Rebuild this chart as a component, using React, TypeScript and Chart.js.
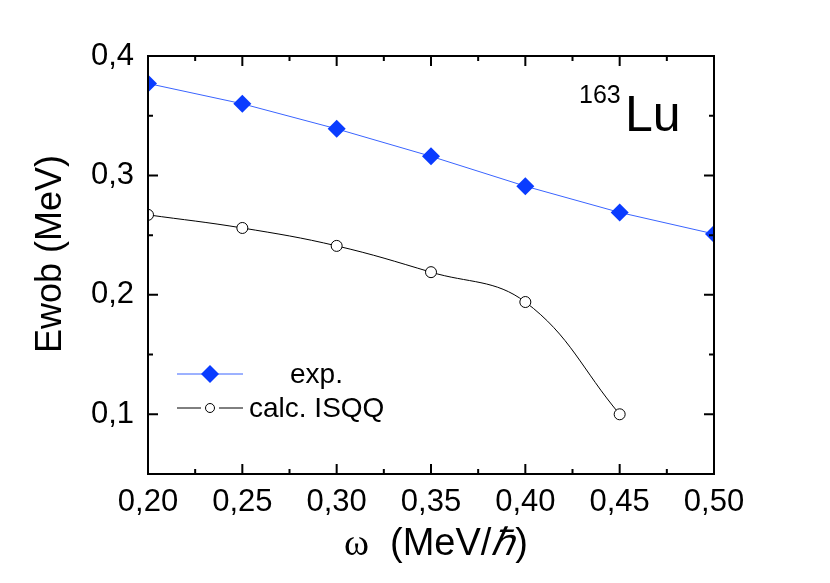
import React, { useEffect, useRef } from 'react';
import { Chart, registerables } from 'chart.js';
Chart.register(...registerables);

const OMEGA_EXP = [0.2, 0.25, 0.3, 0.35, 0.4, 0.45, 0.5];
const E_EXP = [0.377, 0.36, 0.339, 0.316, 0.291, 0.269, 0.251];
const OMEGA_CALC = [0.2, 0.25, 0.3, 0.35, 0.4, 0.45];
const E_CALC = [0.267, 0.256, 0.241, 0.219, 0.194, 0.1];
const X_TICKS = [0.2, 0.25, 0.3, 0.35, 0.4, 0.45, 0.5];
const X_MINOR = [0.225, 0.275, 0.325, 0.375, 0.425, 0.475];
const Y_TICKS = [0.1, 0.2, 0.3, 0.4];
const Y_MINOR = [0.15, 0.25, 0.35];
const SERIES_LABELS = ['exp.', 'calc. ISQQ'];
const X_TITLE_PARTS = ['\u03c9', '(MeV/', '\u210f', ')'];
const Y_TITLE = 'Ewob (MeV)';
const NUCLEUS_MASS = '163';
const NUCLEUS_SYMBOL = 'Lu';

const SANS = '"Liberation Sans", Arial, sans-serif';
const SERIF = '"Liberation Serif", "Times New Roman", serif';
const BLUE = '#0a3cff';
const BLUE_LINE = '#3a64ff';

const fmt = (v: number, d: number) => v.toFixed(d).replace('.', ',');

const framePlugin = {
  id: 'frame',
  afterDatasetsDraw(chart: any) {
    const { ctx, chartArea: a, scales } = chart;
    const xs = scales.x;
    const ys = scales.y;
    ctx.save();
    ctx.strokeStyle = '#000';
    ctx.lineWidth = 2;
    ctx.strokeRect(a.left, a.top, a.right - a.left, a.bottom - a.top);
    const tick = (vals: number[], len: number) => {
      vals.forEach((v) => {
        const px = xs.getPixelForValue(v);
        ctx.beginPath();
        ctx.moveTo(px, a.bottom);
        ctx.lineTo(px, a.bottom - len);
        ctx.moveTo(px, a.top);
        ctx.lineTo(px, a.top + len);
        ctx.stroke();
      });
    };
    const ytick = (vals: number[], len: number) => {
      vals.forEach((v) => {
        const py = ys.getPixelForValue(v);
        ctx.beginPath();
        ctx.moveTo(a.left, py);
        ctx.lineTo(a.left + len, py);
        ctx.moveTo(a.right, py);
        ctx.lineTo(a.right - len, py);
        ctx.stroke();
      });
    };
    tick(X_TICKS, 10);
    tick(X_MINOR, 5);
    ytick(Y_TICKS, 10);
    ytick(Y_MINOR, 5);
    ctx.restore();
  },
  afterDraw(chart: any) {
    const { ctx } = chart;
    ctx.save();
    ctx.fillStyle = '#000';
    // legend
    ctx.lineWidth = 1;
    ctx.strokeStyle = BLUE_LINE;
    ctx.beginPath();
    ctx.moveTo(177, 374);
    ctx.lineTo(243, 374);
    ctx.stroke();
    ctx.fillStyle = BLUE;
    ctx.beginPath();
    ctx.moveTo(210 - 9, 374);
    ctx.lineTo(210, 374 - 9);
    ctx.lineTo(210 + 9, 374);
    ctx.lineTo(210, 374 + 9);
    ctx.closePath();
    ctx.fill();
    ctx.strokeStyle = '#000';
    ctx.beginPath();
    ctx.moveTo(177, 408);
    ctx.lineTo(201, 408);
    ctx.moveTo(219, 408);
    ctx.lineTo(243, 408);
    ctx.stroke();
    ctx.beginPath();
    ctx.arc(210, 408, 4.5, 0, Math.PI * 2);
    ctx.fillStyle = '#fff';
    ctx.fill();
    ctx.stroke();
    ctx.fillStyle = '#000';
    ctx.font = `28px ${SANS}`;
    ctx.textBaseline = 'middle';
    ctx.textAlign = 'left';
    ctx.fillText(SERIES_LABELS[0], 290, 375);
    ctx.fillText(SERIES_LABELS[1], 249, 409);
    // nucleus label
    ctx.textBaseline = 'alphabetic';
    ctx.font = `25px ${SANS}`;
    ctx.fillText(NUCLEUS_MASS, 579, 103);
    ctx.font = `50px ${SANS}`;
    ctx.fillText(NUCLEUS_SYMBOL, 625, 131);
    // y title
    ctx.save();
    ctx.translate(51, 254);
    ctx.rotate(-Math.PI / 2);
    ctx.textAlign = 'center';
    ctx.textBaseline = 'middle';
    ctx.font = `36px ${SANS}`;
    ctx.fillText(Y_TITLE, 0, 0);
    ctx.restore();
    // x title
    let x = 344;
    const base = 555;
    ctx.textAlign = 'left';
    ctx.textBaseline = 'alphabetic';
    ctx.font = `38px ${SERIF}`;
    ctx.fillText(X_TITLE_PARTS[0], x, base);
    x = 390;
    ctx.font = `38px ${SANS}`;
    ctx.fillText(X_TITLE_PARTS[1], x, base);
    x += ctx.measureText(X_TITLE_PARTS[1]).width;
    ctx.font = `italic 38px ${SERIF}`;
    ctx.fillText(X_TITLE_PARTS[2], x, base);
    x += ctx.measureText(X_TITLE_PARTS[2]).width + 1;
    ctx.font = `38px ${SANS}`;
    ctx.fillText(X_TITLE_PARTS[3], x, base);
    ctx.restore();
  },
};

export default function App() {
  const ref = useRef<HTMLCanvasElement>(null);
  useEffect(() => {
    document.body.style.margin = '0';
    const chart = new Chart(ref.current as HTMLCanvasElement, {
      type: 'line',
      data: {
        datasets: [
          {
            label: SERIES_LABELS[0],
            data: OMEGA_EXP.map((x, i) => ({ x, y: E_EXP[i] })),
            borderColor: BLUE_LINE,
            borderWidth: 1,
            pointStyle: 'rectRot',
            pointRadius: 9,
            pointBackgroundColor: BLUE,
            pointBorderColor: BLUE,
            pointBorderWidth: 0,
            tension: 0,
          },
          {
            label: SERIES_LABELS[1],
            data: OMEGA_CALC.map((x, i) => ({ x, y: E_CALC[i] })),
            borderColor: '#000',
            borderWidth: 1,
            pointStyle: 'circle',
            pointRadius: 5.5,
            pointBackgroundColor: '#fff',
            pointBorderColor: '#000',
            pointBorderWidth: 1,
            tension: 0.4,
          },
        ],
      },
      options: {
        responsive: false,
        animation: false,
        events: [],
        layout: { padding: { left: 0, top: 56, right: 116, bottom: 0 } },
        plugins: { legend: { display: false }, tooltip: { enabled: false } },
        scales: {
          x: {
            type: 'linear',
            min: 0.2,
            max: 0.5,
            grid: { display: false, drawTicks: false },
            border: { display: false },
            afterBuildTicks: (s: any) => {
              s.ticks = X_TICKS.map((v) => ({ value: v }));
            },
            afterFit: (s: any) => {
              s.height = 109;
            },
            ticks: {
              padding: 10,
              color: '#000',
              font: { family: SANS, size: 31 },
              maxRotation: 0,
              autoSkip: false,
              callback: (v: any) => fmt(Number(v), 2),
            },
          },
          y: {
            type: 'linear',
            min: 0.05,
            max: 0.4,
            grid: { display: false, drawTicks: false },
            border: { display: false },
            afterBuildTicks: (s: any) => {
              s.ticks = Y_TICKS.map((v) => ({ value: v }));
            },
            afterFit: (s: any) => {
              s.width = 148;
            },
            ticks: {
              padding: 14,
              color: '#000',
              font: { family: SANS, size: 31 },
              autoSkip: false,
              callback: (v: any) => fmt(Number(v), 1),
            },
          },
        },
      },
      plugins: [framePlugin],
    } as any);
    return () => chart.destroy();
  }, []);
  return (
    <div style={{ position: 'absolute', left: 0, top: 0, width: 830, height: 583, background: '#fff' }}>
      <canvas ref={ref} width={830} height={583} />
    </div>
  );
}
